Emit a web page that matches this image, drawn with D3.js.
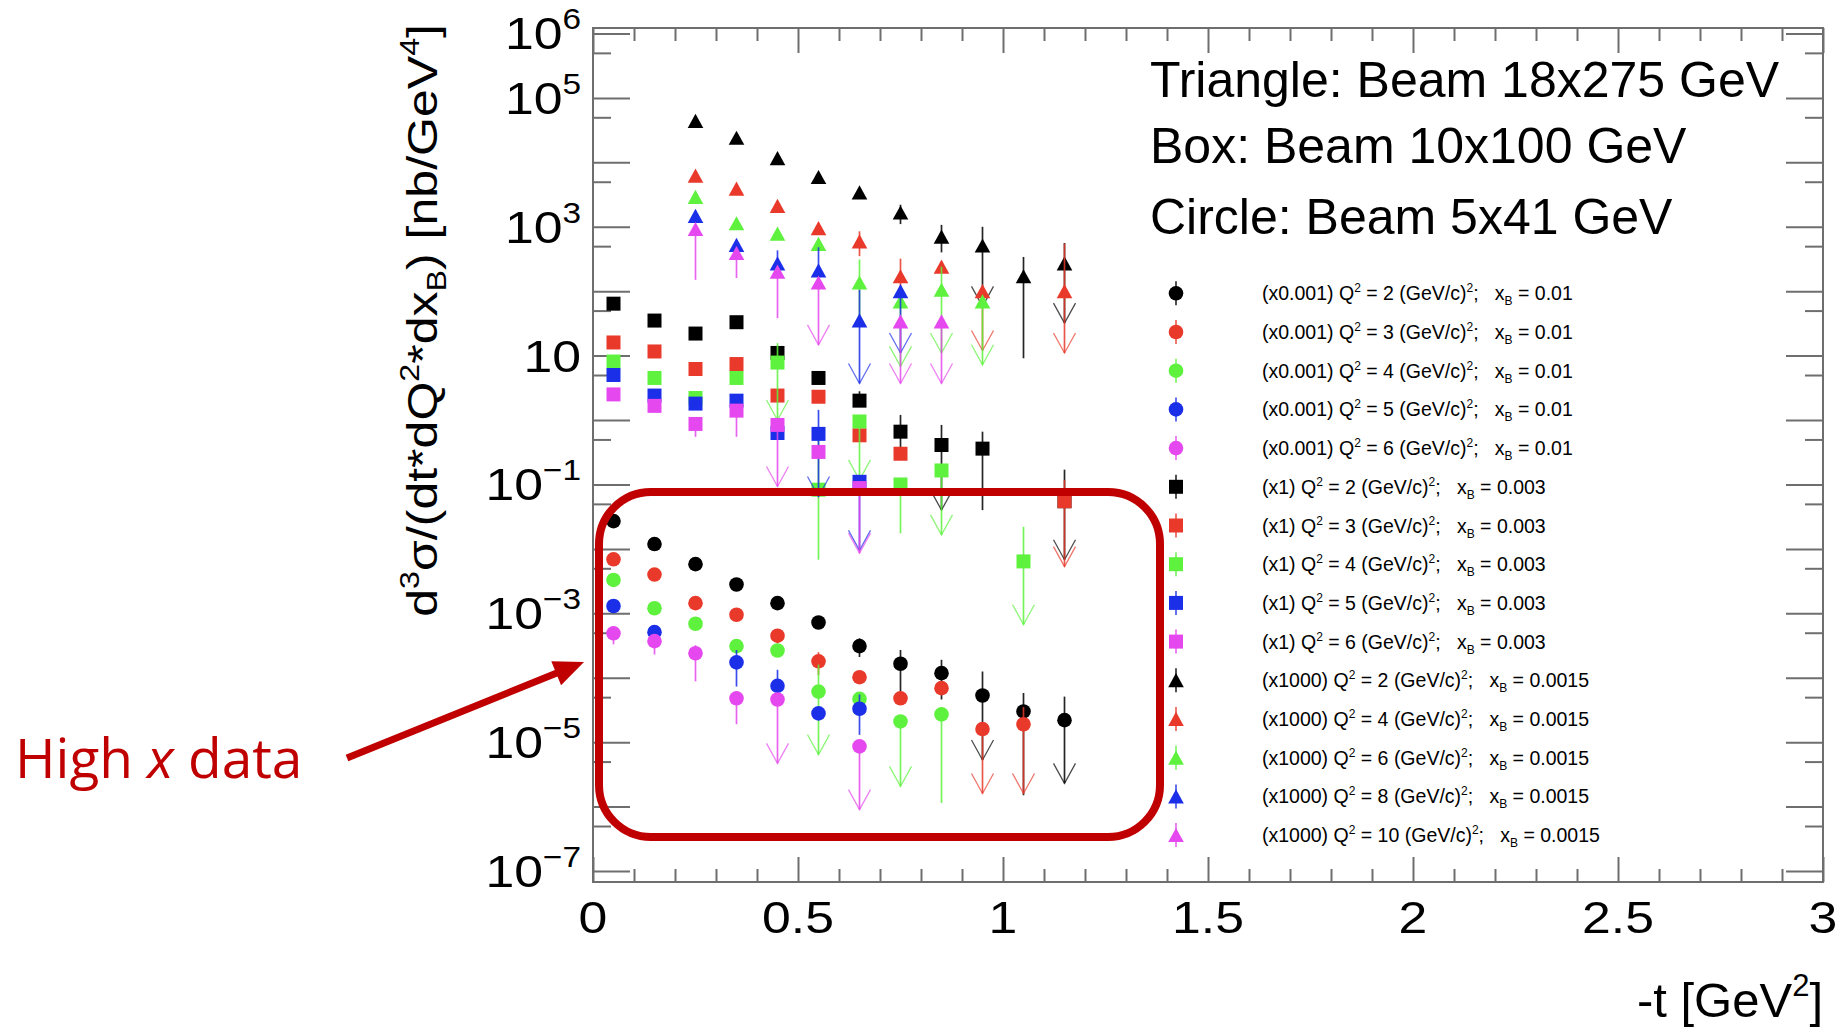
<!DOCTYPE html>
<html>
<head>
<meta charset="utf-8">
<script src="https://cdn.jsdelivr.net/npm/d3@7"></script>
<style>
html, body { margin: 0; padding: 0; background: #fff; }
svg { display: block; }
text { font-family: "Liberation Sans", Arial, Helvetica, sans-serif; fill: #000; }
</style>
</head>
<body>
<svg id="chart" width="1842" height="1031"></svg>
<script>
// -t bin centres [GeV^2]
var tBins = [0.05, 0.15, 0.25, 0.35, 0.45, 0.55, 0.65, 0.75, 0.85, 0.95, 1.05, 1.15];

// rows: [-t, value, lower end, upper end, arrow(1 = lower end is an arrow tip)]
// circles: 5x41 GeV, (x0.001), xB = 0.01
var circBlack = [[0.05, 2.7e-2], [0.15, 1.19e-2], [0.25, 5.8e-3], [0.35, 2.8e-3], [0.45, 1.44e-3], [0.55, 7.2e-4],
	[0.65, 3.1e-4, 2.1e-4, 4.1e-4], [0.75, 1.65e-4, 6e-5, 2.7e-4], [0.85, 1.18e-4, 4.6e-5, 1.9e-4],
	[0.95, 5.3e-5, 5.3e-6, 1.25e-4, 1], [1.05, 3.0e-5, 1.5e-6, 5.8e-5], [1.15, 2.2e-5, 2.3e-6, 5.1e-5, 1]];
var circRed = [[0.05, 6.9e-3], [0.15, 4.0e-3], [0.25, 1.44e-3], [0.35, 9.5e-4], [0.45, 4.5e-4, 3.4e-4, 5.6e-4],
	[0.55, 1.8e-4, 1.1e-4, 2.5e-4], [0.65, 1.02e-4], [0.75, 4.8e-5], [0.85, 6.9e-5],
	[0.95, 1.6e-5, 1.6e-6, null, 1], [1.05, 1.9e-5, 1.6e-6, 3.5e-5, 1]];
var circGreen = [[0.05, 3.3e-3], [0.15, 1.2e-3], [0.25, 6.9e-4], [0.35, 3.1e-4], [0.45, 2.65e-4],
	[0.55, 6.1e-5, 6.4e-6, 1.6e-4, 1], [0.65, 4.7e-5], [0.75, 2.1e-5, 2.06e-6, null, 1], [0.85, 2.7e-5, 1.14e-6, null]];
var circBlue = [[0.05, 1.3e-3], [0.15, 5.1e-4], [0.35, 1.73e-4, 7.3e-5, 2.7e-4], [0.45, 7.5e-5, null, 1.33e-4],
	[0.55, 2.8e-5], [0.65, 3.3e-5, 1.3e-5, 5.5e-5]];
var circMagenta = [[0.05, 4.9e-4, 3.3e-4, null], [0.15, 3.7e-4, 2.3e-4, null], [0.25, 2.4e-4, 8.8e-5, 3.2e-4],
	[0.35, 4.8e-5, 1.9e-5, null], [0.45, 4.6e-5, 4.7e-6, null, 1], [0.65, 8.6e-6, 9e-7, null, 1]];

// boxes: 10x100 GeV, (x1), xB = 0.003
var boxBlack = [[0.05, 64], [0.15, 35], [0.25, 22], [0.35, 33], [0.45, 11], [0.55, 4.5], [0.65, 2.0, null, 2.8],
	[0.75, 0.66, 0.35, 1.2], [0.85, 0.41, 0.040, 0.84, 1], [0.95, 0.36, 0.040, 0.66], [1.15, 0.055, 0.0068, 0.17, 1]];
var boxRed = [[0.05, 16], [0.15, 11.6], [0.25, 6.2], [0.35, 7.4], [0.45, 2.4], [0.55, 2.3], [0.65, 0.58],
	[0.75, 0.30], [1.15, 0.055, 0.0053, 0.118, 1]];
var boxGreen = [[0.05, 8.1], [0.15, 4.5], [0.25, 2.2], [0.35, 4.5], [0.45, 7.8, 1.0, 15.6, 1],
	[0.55, 0.083, 0.0068, 0.5], [0.65, 0.95, 0.118, null, 1], [0.75, 0.10, 0.0175, null],
	[0.85, 0.165, 0.0165, null, 1], [1.05, 0.0064, 6.7e-4, 0.022, 1]];
var boxBlue = [[0.05, 5.0], [0.15, 2.4], [0.25, 1.8], [0.35, 2.0], [0.45, 0.63], [0.55, 0.61, 0.065, 1.44, 1],
	[0.65, 0.11, 0.0095, null, 1]];
var boxMagenta = [[0.05, 2.5], [0.15, 1.66], [0.25, 0.87, 0.55, null], [0.35, 1.4, 0.55, null],
	[0.45, 0.84, 0.093, null, 1], [0.55, 0.32], [0.65, 0.088, 0.0086, null, 1]];

// triangles: 18x275 GeV, (x1000), xB = 0.0015
var triBlack = [[0.25, 4.4e4], [0.35, 2.4e4], [0.45, 1.16e4], [0.55, 5.9e3], [0.65, 3.4e3],
	[0.75, 1.66e3, 1.1e3, 2.2e3], [0.85, 700, 400, 1.07e3], [0.95, 510, 58, 1.0e3, 1],
	[1.05, 170, 9.1, 340], [1.15, 270, 32, 560, 1]];
var triRed = [[0.25, 6.2e3], [0.35, 3.9e3], [0.45, 2.1e3], [0.55, 950], [0.65, 590, 350, 850],
	[0.75, 170, 60, 320], [0.85, 240], [0.95, 100, 12, null, 1], [1.15, 100, 11, 550, 1]];
var triGreen = [[0.25, 2.9e3], [0.35, 1.13e3], [0.45, 780], [0.55, 540], [0.65, 136, 30, 310],
	[0.75, 69, 6.8, null, 1], [0.85, 105, 11, 240, 1], [0.95, 69, 7.2, null, 1]];
var triBlue = [[0.25, 1.47e3], [0.35, 520], [0.45, 270, null, 430], [0.55, 210, null, 480],
	[0.65, 35, 3.7, 105, 1], [0.75, 100, 11, null, 1]];
var triMagenta = [[0.25, 920, 150, null], [0.35, 390, 160, null], [0.45, 200, 38, null],
	[0.55, 136, 14.7, null, 1], [0.75, 34, 3.7, null, 1], [0.85, 34, 3.7, null, 1]];

var seriesColors = ['#000000', '#e8392b', '#5ef23e', '#1c2fe8', '#e548ee'];
var scaleLabels = ['(x0.001)', '(x1)', '(x1000)'];
var q2Circle = [2, 3, 4, 5, 6];
var q2Box = [2, 3, 4, 5, 6];
var q2Tri = [2, 4, 6, 8, 10];
var xbLabels = ['0.01', '0.003', '0.0015'];
var beamLabels = ['Triangle: Beam 18x275 GeV', 'Box: Beam 10x100 GeV', 'Circle: Beam 5x41 GeV'];
var xTickLabels = ['0', '0.5', '1', '1.5', '2', '2.5', '3'];
var yLabelExps = [6, 5, 3, 1, -1, -3, -5, -7];

var frame = {l: 593, r: 1823, t: 28, b: 882};
var axisColor = '#6e6e6e';

var svg = d3.select('#chart');

var x = d3.scaleLinear().domain([0, 3]).range([frame.l, frame.r]);
var y = d3.scaleLog().domain([Math.pow(10, -7.17), Math.pow(10, 6.085)]).range([frame.b, frame.t]);

// ---- frame and ticks ----
var xMajor = d3.range(0, 7).map(function(i){ return i * 0.5; });
var xMinor = d3.range(0, 31).map(function(i){ return i * 0.1; }).filter(function(v){ return Math.abs(v * 2 - Math.round(v * 2)) > 1e-6; });
var yMajor = d3.range(-7, 7).map(function(e){ return Math.pow(10, e); });
var yMinor = d3.range(-7, 6).map(function(e){ return 5 * Math.pow(10, e); });

addTicks = function(axis, tr, vals, size){
	var g = svg.append('g')
		.attr('transform', tr)
		.style('color', axisColor)
		.call(axis.tickValues(vals).tickSize(size).tickFormat(''));
	g.select('.domain').remove();
	g.selectAll('line').attr('stroke-width', 2);
};

addTicks(d3.axisBottom(x), 'translate(0,' + frame.b + ')', xMajor, -25);
addTicks(d3.axisBottom(x), 'translate(0,' + frame.b + ')', xMinor, -13);
addTicks(d3.axisTop(x), 'translate(0,' + frame.t + ')', xMajor, -25);
addTicks(d3.axisTop(x), 'translate(0,' + frame.t + ')', xMinor, -13);
addTicks(d3.axisLeft(y), 'translate(' + frame.l + ',0)', yMajor, -37);
addTicks(d3.axisLeft(y), 'translate(' + frame.l + ',0)', yMinor, -18);
addTicks(d3.axisRight(y), 'translate(' + frame.r + ',0)', yMajor, -37);
addTicks(d3.axisRight(y), 'translate(' + frame.r + ',0)', yMinor, -18);

svg.append('rect')
	.attr('x', frame.l).attr('y', frame.t)
	.attr('width', frame.r - frame.l).attr('height', frame.b - frame.t)
	.attr('fill', 'none').attr('stroke', axisColor).attr('stroke-width', 2);

// ---- tick labels ----
xTickLabels.forEach(function(s){
	svg.append('g')
		.attr('transform', 'translate(' + x(+s) + ',933) scale(1.15,1)')
		.append('text')
		.attr('text-anchor', 'middle')
		.attr('font-size', 45)
		.text(s);
});

yLabelExps.forEach(function(e){
	var t = svg.append('g')
		.attr('transform', 'translate(581,' + (y(Math.pow(10, e)) + 16) + ') scale(1.15,1)')
		.append('text')
		.attr('text-anchor', 'end')
		.attr('font-size', 45);
	t.append('tspan').text('10');
	if (e != 1){
		t.append('tspan').attr('font-size', 29).attr('dy', -20).text(String(e).replace('-', '\u2212'));
	}
});

// ---- axis titles ----
var yTitle = svg.append('g').attr('transform', 'translate(437,24) rotate(-90)');
var yt = yTitle.append('text').attr('text-anchor', 'end').attr('font-size', 42);
yt.append('tspan').text('d');
yt.append('tspan').attr('font-size', 27).attr('dy', -18).text('3');
yt.append('tspan').attr('dy', 18).text('\u03c3/(dt*dQ');
yt.append('tspan').attr('font-size', 27).attr('dy', -18).text('2');
yt.append('tspan').attr('dy', 18).text('*dx');
yt.append('tspan').attr('font-size', 27).attr('dy', 9).text('B');
yt.append('tspan').attr('dy', -9).text(') [nb/GeV');
yt.append('tspan').attr('font-size', 27).attr('dy', -18).text('4');
yt.append('tspan').attr('dy', 18).text(']');
var ytLen = yt.node().getBBox().width;
yt.attr('transform', 'scale(' + (593 / ytLen) + ',1)');

var xt = svg.append('text').attr('x', frame.r).attr('y', 1017).attr('text-anchor', 'end').attr('font-size', 49);
xt.append('tspan').text('-t [GeV');
xt.append('tspan').attr('font-size', 31).attr('dy', -21).text('2');
xt.append('tspan').attr('dy', 21).text(']');

// ---- beam labels ----
beamLabels.forEach(function(s, i){
	svg.append('text')
		.attr('x', 1150)
		.attr('y', [97, 163, 234][i])
		.attr('font-size', 50)
		.text(s);
});

// ---- data ----
markerPath = function(shape){
	if (shape == 'circle') return d3.symbol().type(d3.symbolCircle).size(Math.PI * 7.3 * 7.3)();
	if (shape == 'square') return 'M-7,-7H7V7H-7Z';
	return 'M0,-7.2L7.8,7L-7.8,7Z';
};

drawSeries = function(rows, color, shape){
	var g = svg.append('g');
	rows.forEach(function(r){
		var cx = x(r[0]), cy = y(r[1]);
		var top = r[3] != null ? y(r[3]) : cy;
		var bot = r[2] != null ? y(r[2]) : cy;
		if (bot - top > 0.5){
			g.append('line')
				.attr('x1', cx).attr('x2', cx).attr('y1', top).attr('y2', bot)
				.attr('stroke', color).attr('stroke-width', 1.7).attr('opacity', 0.85);
		}
		if (r[4]){
			g.append('path')
				.attr('d', 'M' + (cx - 11) + ',' + (bot - 20) + 'L' + cx + ',' + bot + 'L' + (cx + 11) + ',' + (bot - 20))
				.attr('fill', 'none').attr('stroke', color).attr('stroke-width', 1.3).attr('opacity', 0.7);
		}
	});
	g.selectAll('.mk')
		.data(rows)
		.enter()
		.append('path')
		.attr('class', 'mk')
		.attr('transform', function(d){ return 'translate(' + x(d[0]) + ',' + y(d[1]) + ')'; })
		.attr('d', markerPath(shape))
		.attr('fill', color);
};

var groups = [
	{rows: [circBlack, circRed, circGreen, circBlue, circMagenta], shape: 'circle', q2: q2Circle},
	{rows: [boxBlack, boxRed, boxGreen, boxBlue, boxMagenta], shape: 'square', q2: q2Box},
	{rows: [triBlack, triRed, triGreen, triBlue, triMagenta], shape: 'triangle', q2: q2Tri}
];

groups.forEach(function(gr){
	gr.rows.forEach(function(rows, i){
		drawSeries(rows, seriesColors[i], gr.shape);
	});
});

// ---- legend ----
var row = 0;
groups.forEach(function(gr, gi){
	gr.q2.forEach(function(q, i){
		var ly = 293.3 + row * 38.7;
		var c = seriesColors[i];
		svg.append('line')
			.attr('x1', 1176).attr('x2', 1176).attr('y1', ly - 12).attr('y2', ly + 12)
			.attr('stroke', c).attr('stroke-width', 1.6).attr('opacity', 0.85);
		svg.append('path')
			.attr('transform', 'translate(1176,' + ly + ')')
			.attr('d', markerPath(gr.shape))
			.attr('fill', c);
		var t = svg.append('text')
			.attr('x', 1262).attr('y', ly + 7)
			.attr('font-size', 19.5)
			.style('white-space', 'pre');
		t.append('tspan').text(scaleLabels[gi] + ' Q');
		t.append('tspan').attr('font-size', 12).attr('dy', -8).text('2');
		t.append('tspan').attr('dy', 8).text(' = ' + q + ' (GeV/c)');
		t.append('tspan').attr('font-size', 12).attr('dy', -8).text('2');
		t.append('tspan').attr('dy', 8).text(';   x');
		t.append('tspan').attr('font-size', 12).attr('dy', 5).text('B');
		t.append('tspan').attr('dy', -5).text(' = ' + xbLabels[gi]);
		row++;
	});
});

// ---- annotation ----
var annRed = '#c00000';
svg.append('rect')
	.attr('x', 599).attr('y', 492)
	.attr('width', 561).attr('height', 345)
	.attr('rx', 52).attr('ry', 52)
	.attr('fill', 'none').attr('stroke', annRed).attr('stroke-width', 8);

var aS = [347, 758], aT = [584, 662];
var dx = aT[0] - aS[0], dy = aT[1] - aS[1], len = Math.sqrt(dx * dx + dy * dy);
var ux = dx / len, uy = dy / len, hl = 30, hw = 13;
var bx = aT[0] - hl * ux, by = aT[1] - hl * uy;
svg.append('line')
	.attr('x1', aS[0]).attr('y1', aS[1]).attr('x2', bx + 2 * ux).attr('y2', by + 2 * uy)
	.attr('stroke', annRed).attr('stroke-width', 7);
svg.append('path')
	.attr('d', 'M' + aT[0] + ',' + aT[1] + 'L' + (bx - hw * uy) + ',' + (by + hw * ux) + 'L' + (bx + hw * uy) + ',' + (by - hw * ux) + 'Z')
	.attr('fill', annRed);

var ann = svg.append('text')
	.attr('x', 15).attr('y', 778)
	.attr('font-size', 55)
	.style('font-family', '"Open Sans", "Noto Sans", sans-serif')
	.style('fill', annRed)
	.style('white-space', 'pre');
ann.append('tspan').text('High ');
ann.append('tspan').style('font-style', 'italic').text('x');
ann.append('tspan').text(' data');
</script>
</body>
</html>
